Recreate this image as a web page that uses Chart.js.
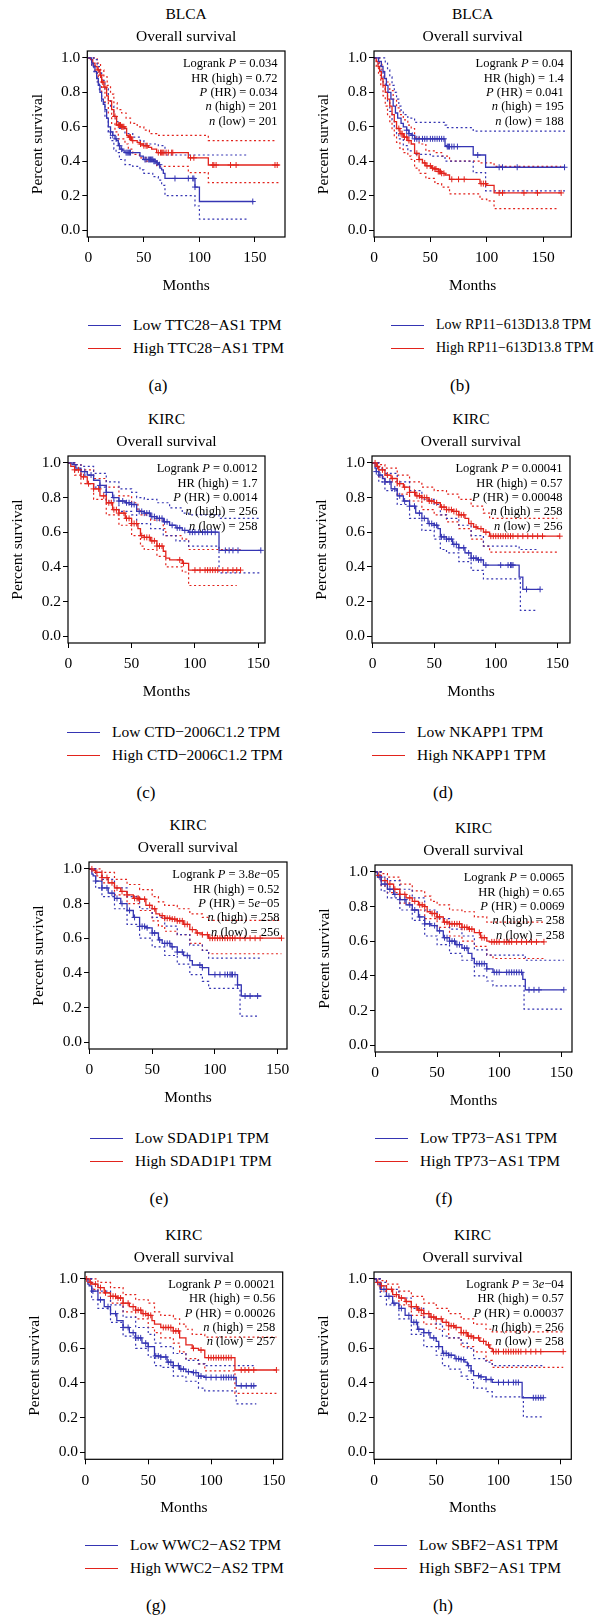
<!DOCTYPE html>
<html>
<head>
<meta charset="utf-8">
<title>Overall survival</title>
<script src="https://cdn.jsdelivr.net/npm/chart.js@4.4.1/dist/chart.umd.min.js"></script>
<style>
  body { margin: 0; background: #fff; }
  #figure { position: relative; width: 596px; height: 1619px; font-family: "Liberation Serif", "Times New Roman", serif; color: #000; }
  #figure canvas { position: absolute; }
  .txt { position: absolute; white-space: nowrap; line-height: 1; font-weight: normal; }
  .stats { position: absolute; white-space: nowrap; text-align: right; font-size: 12.5px; line-height: 14.3px; }
  .key { position: absolute; height: 0; width: 33px; border-top: 1.6px solid; }
</style>
</head>
<body>
<div id="figure"></div>
<script>
const BLUE = '#3535b3';
const RED = '#e2231c';
const FONT = '"Liberation Serif", "Times New Roman", serif';

// shared tick values
const xTicks = [0, 50, 100, 150];
const yTicks = [0, 0.2, 0.4, 0.6, 0.8, 1.0];

// (a) BLCA - TTC28-AS1   [months, survival] after each drop
const aLow = [[0,1],[3,0.97],[4.5,0.95],[6,0.92],[7.5,0.88],[9,0.84],[10.5,0.80],[12,0.76],[13.5,0.73],[15,0.70],[16.5,0.65],[18,0.60],[20,0.57],[22,0.55],[24,0.53],[25.5,0.52],[27,0.49],[28.5,0.47],[31,0.46],[33,0.45],[46.5,0.43],[49.5,0.41],[58.5,0.40],[61,0.39],[63,0.38],[64.5,0.36],[66,0.35],[67.5,0.33],[69,0.30],[96,0.25],[100,0.166],[148.5,0.166]];
const aLowUp = [[0,1],[5,0.99],[8,0.95],[10,0.92],[12,0.87],[15,0.82],[18,0.76],[20,0.72],[23,0.66],[25,0.63],[28,0.59],[33,0.56],[40,0.54],[46.5,0.52],[50,0.50],[63,0.49],[69,0.436],[144,0.436]];
const aLowLo = [[0,1],[3,0.95],[5,0.92],[8,0.86],[10,0.80],[12,0.74],[15,0.65],[18,0.57],[20,0.52],[23,0.47],[25,0.45],[28,0.41],[33,0.38],[40,0.37],[46.5,0.35],[50,0.33],[58,0.31],[63,0.29],[66,0.26],[69,0.20],[96,0.14],[100,0.064],[144,0.064]];
const aLowCens = [20,22,25,28,30,34,35,36,37,38,51,52,54,55,56,57,58,59,60,62,64,78,90,94,95,96,148];
const aHigh = [[0,1],[2,0.99],[4,0.97],[6,0.95],[8,0.93],[10.5,0.90],[12,0.86],[14,0.83],[16.5,0.78],[18,0.75],[21,0.70],[23,0.66],[25.5,0.61],[30,0.60],[33,0.59],[34.5,0.55],[36,0.54],[39,0.52],[44,0.51],[46.5,0.50],[49.5,0.49],[54,0.48],[57,0.47],[61.5,0.45],[90,0.42],[108,0.378],[172,0.378]];
const aHighUp = [[0,1],[5,1.0],[8,0.97],[11,0.93],[14,0.89],[17,0.84],[20,0.79],[23,0.74],[26,0.70],[30,0.68],[34,0.65],[38,0.62],[44,0.60],[50,0.58],[55,0.56],[61.5,0.55],[108,0.52],[168,0.52]];
const aHighLo = [[0,1],[3,0.96],[6,0.91],[9,0.86],[12,0.80],[15,0.74],[18,0.68],[21,0.62],[24,0.57],[27,0.53],[33,0.50],[36,0.47],[40,0.44],[46,0.42],[52,0.40],[61.5,0.37],[90,0.334],[108,0.276],[172,0.276]];
const aHighCens = [9,11,13,15,24,27,28,29,30,31,32,37,38,40,47,50,52,53,63,65,66,67,68,70,72,75,76,92,95,112,113,115,128,133,168,170];

// (b) BLCA - RP11-613D13.8
const bLow = [[0,1],[4,0.98],[6.5,0.95],[8,0.92],[9.5,0.88],[11,0.84],[12.4,0.80],[15,0.76],[17,0.72],[19,0.68],[21,0.65],[24,0.62],[26,0.60],[29,0.58],[31,0.56],[33,0.55],[36,0.53],[63,0.49],[64.5,0.485],[88,0.436],[99,0.365],[169,0.365]];
const bLowUp = [[0,1],[8,1.0],[10,0.97],[12,0.93],[14,0.89],[16,0.84],[18,0.80],[20,0.76],[22,0.72],[24,0.69],[26,0.67],[30,0.65],[36,0.625],[63,0.61],[64.5,0.595],[88,0.575],[170,0.575]];
const bLowLo = [[0,1],[4,0.96],[6,0.92],[8,0.86],[10,0.80],[12,0.74],[14,0.69],[16,0.64],[18,0.60],[20,0.56],[22,0.53],[26,0.49],[30,0.46],[36,0.44],[50,0.43],[63,0.40],[88,0.334],[99,0.228],[170,0.228]];
const bLowCens = [29,31,34,36,38,40,43,45,47,50,52,54,56,58,60,62,65,66,67,69,71,74,92,111,114,127,169];
const bHigh = [[0,1],[2,0.98],[3.5,0.95],[5,0.92],[6.5,0.88],[8,0.84],[10,0.80],[12,0.76],[14,0.72],[16,0.67],[18,0.63],[20,0.59],[23,0.56],[26,0.54],[30,0.52],[33,0.50],[36,0.446],[40,0.41],[43,0.39],[46,0.373],[51,0.36],[54,0.355],[57,0.34],[60,0.33],[63,0.32],[67,0.295],[94,0.27],[100,0.26],[106.5,0.216],[166,0.216]];
const bHighUp = [[0,1],[3,1.0],[5,0.97],[7,0.93],[9,0.89],[11,0.86],[14,0.81],[17,0.76],[20,0.71],[23,0.67],[26,0.64],[30,0.61],[33,0.59],[36,0.54],[40,0.50],[46,0.46],[54,0.45],[60,0.43],[67,0.40],[94,0.39],[106.5,0.37],[166,0.37]];
const bHighLo = [[0,1],[2,0.95],[4,0.90],[6,0.84],[8,0.78],[10,0.72],[12,0.67],[14,0.63],[16,0.58],[18,0.54],[20,0.51],[23,0.47],[26,0.45],[30,0.43],[33,0.41],[36,0.36],[40,0.33],[46,0.30],[54,0.27],[60,0.25],[67,0.21],[94,0.18],[100,0.17],[106.5,0.125],[162,0.125]];
const bHighCens = [22,24,25,27,29,31,38,40,45,47,50,52,54,55,57,58,59,60,62,69,75,80,95,97,99,111,114,133,145,166];

// (c) KIRC - CTD-2006C1.2
const cLow = [[0,1],[3,0.99],[6,0.97],[10,0.95],[15,0.93],[20,0.90],[25,0.87],[30,0.83],[35,0.80],[40,0.78],[45,0.77],[50,0.76],[54,0.72],[60,0.71],[65,0.69],[70,0.68],[75,0.66],[80,0.64],[85,0.625],[90,0.61],[95,0.60],[119,0.495],[152,0.495]];
const cLowUp = [[0,1],[5,0.99],[10,0.98],[20,0.94],[30,0.89],[40,0.85],[50,0.83],[54,0.80],[60,0.79],[70,0.77],[80,0.74],[90,0.71],[95,0.70],[119,0.68],[152,0.68]];
const cLowLo = [[0,1],[5,0.96],[10,0.93],[20,0.86],[30,0.78],[40,0.72],[50,0.70],[54,0.65],[65,0.62],[75,0.58],[85,0.55],[95,0.52],[119,0.365],[152,0.365]];
const cLowCens = [13,18,25,30,36,40,43,46,48,50,52,56,58,60,62,64,66,68,70,72,74,76,78,82,86,88,92,96,98,100,103,106,108,110,113,116,124,127,130,134,152];
const cHigh = [[0,1],[2,0.98],[5,0.96],[10,0.92],[15,0.88],[20,0.85],[25,0.81],[30,0.77],[35,0.73],[40,0.71],[45,0.68],[50,0.65],[55,0.62],[57,0.58],[60,0.57],[65,0.55],[70,0.52],[75,0.49],[77,0.45],[80,0.44],[90,0.42],[95,0.381],[136,0.381]];
const cHighUp = [[0,1],[5,0.99],[10,0.96],[20,0.91],[30,0.86],[40,0.81],[50,0.77],[55,0.73],[57,0.70],[65,0.67],[75,0.62],[77,0.58],[90,0.56],[95,0.50],[136,0.50]];
const cHighLo = [[0,1],[5,0.93],[10,0.88],[20,0.79],[30,0.70],[40,0.64],[50,0.58],[57,0.52],[60,0.50],[70,0.46],[77,0.40],[90,0.37],[95,0.292],[133,0.292]];
const cHighCens = [5,8,12,16,20,24,28,32,34,36,38,40,44,46,48,50,52,54,58,60,62,64,66,68,70,72,74,88,91,100,104,108,110,112,114,116,118,122,126,130,133,136];

// (d) KIRC - NKAPP1
const dLow = [[0,1],[2,0.97],[3,0.95],[5,0.93],[8,0.91],[10,0.89],[15,0.85],[20,0.81],[25,0.78],[30,0.75],[35,0.71],[40,0.68],[45,0.65],[50,0.64],[53,0.62],[55,0.573],[60,0.56],[65,0.53],[70,0.51],[75,0.48],[80,0.45],[85,0.44],[90,0.41],[119,0.34],[122,0.27],[136,0.27]];
const dLowUp = [[0,1],[5,0.97],[10,0.94],[20,0.89],[30,0.84],[40,0.79],[50,0.76],[55,0.70],[60,0.68],[70,0.64],[80,0.58],[90,0.52],[119,0.50],[134,0.50]];
const dLowLo = [[0,1],[5,0.89],[10,0.84],[20,0.76],[30,0.68],[40,0.61],[50,0.56],[55,0.50],[60,0.48],[70,0.43],[80,0.38],[90,0.33],[120,0.148],[134,0.148]];
const dLowCens = [3,6,10,14,18,22,26,30,34,38,42,46,48,50,52,56,58,60,62,64,66,68,70,74,78,80,82,84,86,88,92,104,110,112,113,114,125,136];
const dHigh = [[0,1],[3,0.98],[5,0.96],[10,0.93],[15,0.91],[20,0.88],[25,0.86],[30,0.83],[35,0.81],[40,0.80],[45,0.78],[50,0.77],[55,0.745],[60,0.73],[65,0.72],[70,0.70],[75,0.68],[78,0.65],[82,0.63],[85,0.62],[90,0.60],[95,0.577],[152,0.577]];
const dHighUp = [[0,1],[5,0.99],[10,0.97],[20,0.93],[30,0.89],[40,0.86],[50,0.84],[60,0.82],[70,0.79],[80,0.75],[90,0.71],[95,0.68],[150,0.68]];
const dHighLo = [[0,1],[5,0.92],[10,0.89],[20,0.82],[30,0.78],[40,0.73],[50,0.70],[60,0.66],[70,0.62],[80,0.56],[90,0.52],[95,0.485],[150,0.485]];
const dHighCens = [2,4,8,12,16,22,26,30,34,36,38,40,42,44,46,48,52,56,58,60,62,64,66,68,70,72,74,80,84,88,92,96,98,100,102,104,106,108,110,112,114,118,122,126,130,134,138,152];

// (e) KIRC - SDAD1P1
const eLow = [[0,1],[2,0.97],[3,0.96],[5,0.93],[10,0.89],[15,0.86],[20,0.83],[25,0.80],[30,0.76],[35,0.72],[40,0.668],[45,0.66],[50,0.63],[55,0.59],[58,0.57],[65,0.55],[70,0.52],[75,0.50],[80,0.47],[82,0.445],[90,0.43],[95,0.39],[118,0.33],[121,0.266],[137,0.266]];
const eLowUp = [[0,1],[5,0.98],[10,0.94],[20,0.89],[30,0.84],[40,0.77],[50,0.72],[60,0.67],[70,0.62],[80,0.56],[90,0.53],[95,0.485],[137,0.485]];
const eLowLo = [[0,1],[5,0.89],[10,0.84],[20,0.77],[30,0.68],[40,0.60],[50,0.55],[60,0.50],[70,0.45],[80,0.39],[90,0.35],[95,0.31],[120,0.15],[134,0.15]];
const eLowCens = [5,10,14,18,22,26,32,36,40,42,44,46,50,52,56,60,62,64,66,70,74,78,88,90,100,104,108,110,112,113,114,116,118,124,128,134];
const eHigh = [[0,1],[3,0.99],[5,0.98],[10,0.95],[15,0.92],[20,0.89],[25,0.87],[30,0.85],[35,0.83],[40,0.825],[45,0.79],[50,0.77],[53,0.74],[56,0.73],[60,0.715],[65,0.71],[70,0.70],[75,0.68],[80,0.65],[85,0.63],[90,0.62],[95,0.60],[153,0.60]];
const eHighUp = [[0,1],[10,0.98],[20,0.94],[30,0.91],[40,0.88],[50,0.84],[55,0.81],[60,0.79],[70,0.77],[80,0.74],[90,0.72],[95,0.703],[153,0.703]];
const eHighLo = [[0,1],[5,0.96],[10,0.92],[20,0.85],[30,0.80],[40,0.76],[50,0.70],[55,0.67],[60,0.64],[70,0.62],[80,0.57],[90,0.53],[95,0.51],[153,0.51]];
const eHighCens = [2,6,10,14,18,22,26,30,36,38,39,40,44,48,52,58,60,62,64,66,68,70,72,74,76,78,82,86,90,94,96,98,100,102,104,106,108,110,112,114,116,120,124,128,132,136,153];

// (f) KIRC - TP73-AS1
const fLow = [[0,1],[2,0.97],[5,0.93],[10,0.90],[15,0.87],[20,0.84],[25,0.81],[30,0.78],[35,0.74],[40,0.70],[45,0.69],[50,0.66],[55,0.62],[60,0.60],[65,0.58],[70,0.56],[75,0.53],[78,0.50],[80,0.47],[90,0.44],[95,0.42],[119,0.38],[121,0.319],[152,0.319]];
const fLowUp = [[0,1],[5,0.97],[10,0.95],[20,0.90],[30,0.85],[40,0.78],[50,0.73],[60,0.67],[70,0.63],[80,0.55],[90,0.52],[119,0.52],[121,0.49],[152,0.49]];
const fLowLo = [[0,1],[5,0.89],[10,0.85],[20,0.78],[30,0.72],[40,0.63],[50,0.58],[60,0.53],[70,0.49],[80,0.40],[90,0.37],[95,0.342],[120,0.208],[152,0.208]];
const fLowCens = [4,8,12,16,20,24,28,32,36,40,44,48,52,56,58,60,62,64,66,68,72,74,82,84,86,88,90,96,98,100,106,108,110,112,114,116,118,124,128,132,152];
const fHigh = [[0,1],[2,0.98],[5,0.95],[10,0.93],[15,0.90],[20,0.87],[25,0.85],[30,0.83],[35,0.81],[40,0.80],[42,0.77],[45,0.76],[50,0.74],[55,0.71],[60,0.70],[70,0.68],[75,0.67],[80,0.65],[85,0.62],[90,0.60],[92,0.596],[136,0.596]];
const fHighUp = [[0,1],[5,0.99],[10,0.97],[20,0.93],[30,0.89],[40,0.86],[45,0.83],[50,0.81],[60,0.78],[70,0.77],[80,0.74],[90,0.71],[136,0.71]];
const fHighLo = [[0,1],[5,0.92],[10,0.88],[20,0.82],[30,0.78],[40,0.73],[50,0.68],[60,0.63],[70,0.60],[80,0.57],[90,0.52],[95,0.50],[136,0.50]];
const fHighCens = [3,8,12,16,20,24,28,32,36,38,40,46,48,50,52,56,58,60,62,64,66,68,70,72,74,76,78,84,86,88,94,96,98,100,104,106,108,110,114,118,122,126,130,136];

// (g) KIRC - WWC2-AS2
const gLow = [[0,1],[2,0.97],[3,0.96],[5,0.93],[10,0.88],[15,0.84],[20,0.80],[25,0.76],[30,0.72],[35,0.69],[40,0.66],[45,0.63],[50,0.61],[55,0.556],[60,0.55],[65,0.52],[70,0.50],[75,0.48],[80,0.465],[85,0.46],[90,0.44],[95,0.432],[120,0.384],[136,0.384]];
const gLowUp = [[0,1],[5,0.97],[10,0.93],[20,0.85],[30,0.78],[40,0.72],[50,0.68],[55,0.63],[60,0.61],[70,0.57],[80,0.53],[90,0.51],[95,0.50],[136,0.50]];
const gLowLo = [[0,1],[5,0.88],[10,0.83],[20,0.75],[30,0.67],[40,0.60],[50,0.55],[55,0.50],[60,0.49],[70,0.44],[80,0.41],[90,0.37],[95,0.355],[120,0.28],[136,0.28]];
const gLowCens = [6,12,18,24,30,34,38,40,42,44,48,50,56,58,60,64,66,68,70,74,76,78,82,86,88,90,92,96,100,104,108,110,112,114,116,118,124,128,132,134];
const gHigh = [[0,1],[3,0.98],[5,0.97],[10,0.95],[15,0.92],[20,0.90],[25,0.89],[30,0.86],[35,0.84],[40,0.82],[45,0.80],[50,0.79],[53,0.76],[55,0.74],[60,0.72],[70,0.70],[75,0.66],[80,0.62],[85,0.60],[90,0.59],[95,0.546],[119,0.475],[152,0.475]];
const gHighUp = [[0,1],[10,0.98],[20,0.95],[30,0.91],[40,0.88],[50,0.86],[55,0.81],[60,0.79],[70,0.77],[75,0.74],[80,0.71],[85,0.68],[95,0.664],[152,0.664]];
const gHighLo = [[0,1],[5,0.94],[10,0.92],[20,0.86],[30,0.81],[40,0.77],[50,0.72],[55,0.69],[60,0.66],[70,0.63],[75,0.58],[80,0.54],[90,0.51],[95,0.47],[119,0.34],[152,0.34]];
const gHighCens = [1,4,8,12,16,20,22,24,26,28,30,34,38,40,42,44,46,48,50,52,62,64,66,68,70,72,74,86,92,98,100,102,104,106,108,110,112,114,116,124,127,130,134,152];

// (h) KIRC - SBF2-AS1
const hLow = [[0,1],[2,0.98],[3,0.97],[5,0.94],[10,0.90],[15,0.86],[20,0.83],[25,0.79],[30,0.75],[35,0.71],[40,0.69],[45,0.66],[50,0.64],[52,0.61],[55,0.571],[60,0.56],[65,0.54],[70,0.535],[73,0.52],[75,0.50],[78,0.47],[80,0.442],[85,0.435],[90,0.42],[95,0.403],[119,0.315],[136,0.315]];
const hLowUp = [[0,1],[5,0.98],[10,0.94],[20,0.89],[30,0.83],[40,0.78],[50,0.74],[55,0.67],[60,0.66],[70,0.63],[75,0.60],[80,0.54],[90,0.52],[95,0.50],[136,0.50]];
const hLowLo = [[0,1],[5,0.90],[10,0.85],[20,0.77],[30,0.68],[40,0.61],[50,0.56],[55,0.50],[60,0.48],[70,0.44],[75,0.42],[80,0.37],[90,0.35],[95,0.32],[120,0.205],[136,0.205]];
const hLowCens = [8,12,16,22,28,32,34,36,40,44,48,52,56,58,60,62,66,68,70,72,76,78,84,86,90,94,100,104,108,112,114,116,128,130,132,134,136];
const hHigh = [[0,1],[2,0.98],[5,0.96],[10,0.94],[15,0.91],[20,0.89],[25,0.87],[30,0.84],[35,0.82],[40,0.80],[45,0.78],[50,0.77],[55,0.75],[60,0.73],[65,0.72],[70,0.69],[75,0.67],[80,0.66],[85,0.64],[90,0.62],[93,0.60],[95,0.581],[152,0.581]];
const hHighUp = [[0,1],[5,0.99],[10,0.97],[20,0.93],[30,0.90],[40,0.86],[50,0.83],[60,0.80],[70,0.77],[80,0.74],[90,0.71],[95,0.695],[152,0.695]];
const hHighLo = [[0,1],[5,0.93],[10,0.90],[20,0.85],[30,0.79],[40,0.74],[50,0.71],[60,0.66],[70,0.61],[80,0.58],[90,0.53],[95,0.49],[152,0.49]];
const hHighCens = [3,6,10,14,18,22,26,30,34,36,38,40,44,46,48,50,54,58,60,62,64,66,70,72,74,76,78,80,84,88,92,96,98,100,104,106,108,110,112,114,116,118,122,126,130,134,152];

// panel text + where each panel sits on the page
const panels = [
  { tag: '(a)', cancer: 'BLCA', gene: 'TTC28−AS1',
    stats: ['Logrank <i>P</i> = 0.034', 'HR (high) = 0.72', '<i>P</i> (HR) = 0.034', '<i>n</i> (high) = 201', '<i>n</i> (low) = 201'],
    low: [aLow, aLowUp, aLowLo, aLowCens], high: [aHigh, aHighUp, aHighLo, aHighCens], xRange: [-0.9, 177],
    col: 0, row: 0, box: { left: 87.3, right: 285, top: 51, bottom: 237 }, keyX: 88, keySize: 15.5, tagX: 158 },
  { tag: '(b)', cancer: 'BLCA', gene: 'RP11−613D13.8',
    stats: ['Logrank <i>P</i> = 0.04', 'HR (high) = 1.4', '<i>P</i> (HR) = 0.041', '<i>n</i> (high) = 195', '<i>n</i> (low) = 188'],
    low: [bLow, bLowUp, bLowLo, bLowCens], high: [bHigh, bHighUp, bHighLo, bHighCens], xRange: [0, 175],
    col: 298, row: 0, box: { left: 374, right: 571.3, top: 51, bottom: 237 }, keyX: 391, keySize: 14, tagX: 460 },
  { tag: '(c)', cancer: 'KIRC', gene: 'CTD−2006C1.2',
    stats: ['Logrank <i>P</i> = 0.0012', 'HR (high) = 1.7', '<i>P</i> (HR) = 0.0014', '<i>n</i> (high) = 256', '<i>n</i> (low) = 258'],
    low: [cLow, cLowUp, cLowLo, cLowCens], high: [cHigh, cHighUp, cHighLo, cHighCens], xRange: [-0.2, 155.3],
    col: 0, row: 407, box: { left: 68, right: 265, top: 456, bottom: 643 }, keyX: 67, keySize: 15.5, tagX: 146 },
  { tag: '(d)', cancer: 'KIRC', gene: 'NKAPP1',
    stats: ['Logrank <i>P</i> = 0.00041', 'HR (high) = 0.57', '<i>P</i> (HR) = 0.00048', '<i>n</i> (high) = 258', '<i>n</i> (low) = 256'],
    low: [dLow, dLowUp, dLowLo, dLowCens], high: [dHigh, dHighUp, dHighLo, dHighCens], xRange: [-0.5, 160.3],
    col: 298, row: 407, box: { left: 372, right: 570, top: 456, bottom: 643 }, keyX: 372, keySize: 15.5, tagX: 443 },
  { tag: '(e)', cancer: 'KIRC', gene: 'SDAD1P1',
    stats: ['Logrank <i>P</i> = 3.8<i>e</i>−05', 'HR (high) = 0.52', '<i>P</i> (HR) = 5<i>e</i>−05', '<i>n</i> (high) = 258', '<i>n</i> (low) = 256'],
    low: [eLow, eLowUp, eLowLo, eLowCens], high: [eHigh, eHighUp, eHighLo, eHighCens], xRange: [-0.3, 157.4],
    col: 0, row: 813, box: { left: 89, right: 287, top: 862, bottom: 1049 }, keyX: 90, keySize: 15.5, tagX: 159 },
  { tag: '(f)', cancer: 'KIRC', gene: 'TP73−AS1',
    stats: ['Logrank <i>P</i> = 0.0065', 'HR (high) = 0.65', '<i>P</i> (HR) = 0.0069', '<i>n</i> (high) = 258', '<i>n</i> (low) = 258'],
    low: [fLow, fLowUp, fLowLo, fLowCens], high: [fHigh, fHighUp, fHighLo, fHighCens], xRange: [0, 158.6],
    col: 298, row: 813, box: { left: 375, right: 572, top: 865, bottom: 1052 }, keyX: 375, keySize: 15.5, tagX: 444 },
  { tag: '(g)', cancer: 'KIRC', gene: 'WWC2−AS2',
    stats: ['Logrank <i>P</i> = 0.00021', 'HR (high) = 0.56', '<i>P</i> (HR) = 0.00026', '<i>n</i> (high) = 258', '<i>n</i> (low) = 257'],
    low: [gLow, gLowUp, gLowLo, gLowCens], high: [gHigh, gHighUp, gHighLo, gHighCens], xRange: [-0.3, 157],
    col: 0, row: 1220, box: { left: 85, right: 282.7, top: 1271.7, bottom: 1459 }, keyX: 85, keySize: 15.5, tagX: 156 },
  { tag: '(h)', cancer: 'KIRC', gene: 'SBF2−AS1',
    stats: ['Logrank <i>P</i> = 3<i>e</i>−04', 'HR (high) = 0.57', '<i>P</i> (HR) = 0.00037', '<i>n</i> (high) = 256', '<i>n</i> (low) = 258'],
    low: [hLow, hLowUp, hLowLo, hLowCens], high: [hHigh, hHighUp, hHighLo, hHighCens], xRange: [0, 158.5],
    col: 298, row: 1220, box: { left: 374, right: 571.3, top: 1271.7, bottom: 1459 }, keyX: 374, keySize: 15.5, tagX: 443 }
];

const fig = document.getElementById('figure');

function stepData(curve) {
  return curve.map(([t, s]) => ({ x: t, y: s }));
}

// censor ticks sit on the curve: take the level in force at that month
function censorData(curve, times) {
  return times.map(t => {
    let s = curve[0][1];
    for (const [ct, cs] of curve) {
      if (ct <= t) s = cs; else break;
    }
    return { x: t, y: s };
  });
}

function addText(html, x, y, size, anchor) {
  const el = document.createElement('div');
  el.className = 'txt';
  el.innerHTML = html;
  el.style.left = x + 'px';
  el.style.top = y + 'px';
  el.style.fontSize = size + 'px';
  el.style.transform = anchor === 'left' ? 'translateY(-50%)' : 'translate(-50%, -50%)';
  fig.appendChild(el);
}

const framePlugin = {
  id: 'frame',
  afterDraw(chart) {
    const { ctx, chartArea: a } = chart;
    ctx.save();
    ctx.strokeStyle = '#000';
    ctx.lineWidth = 1.2;
    ctx.strokeRect(a.left, a.top, a.right - a.left, a.bottom - a.top);
    ctx.restore();
  }
};

function groupSets(group, color) {
  const [curve, upper, lower, cens] = group;
  const band = data => ({
    data: stepData(data), borderColor: color, borderWidth: 1.2, borderDash: [2, 2.6],
    stepped: true, pointRadius: 0, fill: false, order: 3
  });
  return [
    { data: stepData(curve), borderColor: color, borderWidth: 1.3, stepped: true, pointRadius: 0, fill: false, order: 2 },
    band(upper),
    band(lower),
    { type: 'scatter', data: censorData(curve, cens), borderColor: color, backgroundColor: color,
      pointStyle: 'cross', pointRadius: 3, borderWidth: 1, order: 1 }
  ];
}

function drawPanel(p) {
  const b = p.box;
  const top = b.top - 20;
  const height = Math.round(b.bottom - top + 62);
  const canvas = document.createElement('canvas');
  canvas.width = 298;
  canvas.height = height;
  canvas.style.left = p.col + 'px';
  canvas.style.top = top + 'px';
  fig.appendChild(canvas);

  const tickFont = { family: FONT, size: 15.5, weight: 'normal' };
  const xAxisH = height - (b.bottom - top);
  const yAxisW = b.left - p.col;

  new Chart(canvas.getContext('2d'), {
    type: 'line',
    data: { datasets: [...groupSets(p.low, BLUE), ...groupSets(p.high, RED)] },
    options: {
      responsive: false,
      animation: false,
      events: [],
      layout: { padding: { left: 0, top: 20, right: p.col + 298 - b.right, bottom: 0 } },
      plugins: { legend: { display: false }, tooltip: { enabled: false } },
      scales: {
        x: {
          type: 'linear', min: p.xRange[0], max: p.xRange[1],
          afterBuildTicks: s => { s.ticks = xTicks.map(v => ({ value: v })); },
          afterFit: s => { s.height = xAxisH; },
          grid: { drawOnChartArea: false, tickLength: 5, color: '#000', lineWidth: 1 },
          border: { display: false },
          ticks: { color: '#000', font: tickFont, padding: 7, maxRotation: 0, autoSkip: false, callback: v => String(v) },
          title: { display: true, text: 'Months', color: '#000', font: tickFont, padding: { top: 0, bottom: 4 } }
        },
        y: {
          type: 'linear', min: -0.04, max: 1.04,
          afterBuildTicks: s => { s.ticks = yTicks.map(v => ({ value: v })); },
          afterFit: s => { s.width = yAxisW; },
          grid: { drawOnChartArea: false, tickLength: 5, color: '#000', lineWidth: 1 },
          border: { display: false },
          ticks: { color: '#000', font: tickFont, padding: 2, autoSkip: false, callback: v => v.toFixed(1) },
          title: { display: true, text: 'Percent survival', color: '#000', font: tickFont,
                   padding: { top: yAxisW - 59, bottom: 0 } }
        }
      }
    },
    plugins: [framePlugin]
  });

  // titles above the box
  const cx = (b.left + b.right) / 2;
  addText(p.cancer, cx, b.top - 37, 15.5);
  addText('Overall survival', cx, b.top - 15, 15.5);

  // statistics, right aligned inside the box
  const st = document.createElement('div');
  st.className = 'stats';
  st.innerHTML = p.stats.join('<br>');
  st.style.right = (596 - (b.right - 7.5)) + 'px';
  st.style.top = (b.top + 12.5 - 7.15) + 'px';
  fig.appendChild(st);

  // key below the plot
  [['Low', BLUE, 325], ['High', RED, 348]].forEach(([lvl, color, dy]) => {
    const k = document.createElement('div');
    k.className = 'key';
    k.style.borderTopColor = color;
    k.style.left = p.keyX + 'px';
    k.style.top = (p.row + dy) + 'px';
    fig.appendChild(k);
    addText(lvl + ' ' + p.gene + ' TPM', p.keyX + 45, p.row + dy, p.keySize, 'left');
  });

  addText(p.tag, p.tagX, p.row + 385, 17);
}

panels.forEach(drawPanel);
</script>
</body>
</html>
